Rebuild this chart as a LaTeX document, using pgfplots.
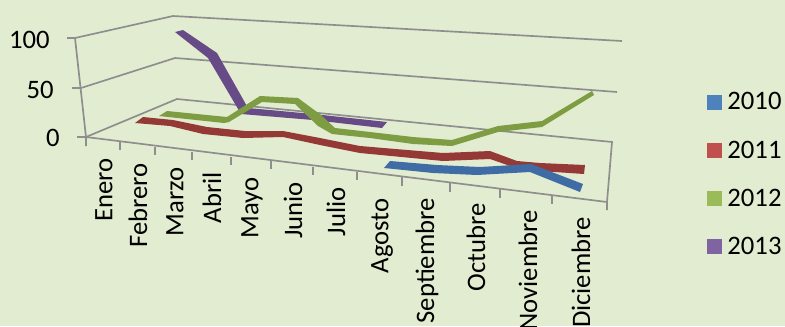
\documentclass[border=0pt]{standalone}
\usepackage{fontspec}
\setmainfont{Carlito}
\usepackage{pgfplots}
\pgfplotsset{compat=1.18}
\definecolor{bgc}{HTML}{E2ECD0}
\definecolor{gridc}{HTML}{8E8E8E}
% ribbon colours (darker, shaded in the 3D view)
\definecolor{r2010}{HTML}{3F6CA4}
\definecolor{r2011}{HTML}{953937}
\definecolor{r2012}{HTML}{7E9C41}
\definecolor{r2013}{HTML}{664B86}
% legend colours
\definecolor{l2010}{HTML}{4F81BD}
\definecolor{l2011}{HTML}{C0504D}
\definecolor{l2012}{HTML}{9BBB59}
\definecolor{l2013}{HTML}{8064A2}
\newcommand{\lab}{\fontsize{20}{23}\selectfont}
\pgfplotsset{
  frameline/.style={gridc, line width=1.25pt, forget plot},
  ribbon/.style={draw=none, forget plot},
  legsq/.style={legend image code/.code={\fill[##1, draw=none] (0pt,-5.6pt) rectangle (11.2pt,5.6pt);}},
}
\begin{document}
\begin{tikzpicture}
\path[use as bounding box, clip] (0,0) rectangle (588.75pt,244.5pt);
\begin{axis}[
  at={(0,0)}, anchor=south west,
  scale only axis, width=588.75pt, height=244.5pt,
  xmin=0, xmax=785, ymin=0, ymax=326, y dir=reverse,
  hide axis, clip=false,
  axis background/.style={fill=bgc},
  legend style={at={(axis cs:707,90)}, anchor=north west, draw=none, fill=none,
    font=\lab, row sep=17.6pt, inner sep=0pt, outer sep=0pt,
    /tikz/every even column/.append style={column sep=0pt},
    /tikz/every odd column/.append style={column sep=-1.2pt}},
  legend cell align=left,
]
% background rectangle so that the page colour is complete
\addplot[fill=bgc, draw=none, forget plot] coordinates {(0,0) (785,0) (785,326) (0,326)};

% walls and floor edges
\addplot[frameline] coordinates {(67,38) (75,38) (173,16) (622,41)};
\addplot[frameline] coordinates {(72,88) (81,88) (175,58) (617,92)};
\addplot[frameline] coordinates {(77,137) (86,137) (177,99) (612,142) (607,202) (607,210)};
\addplot[frameline] coordinates {(75,38) (86,137) (86,146)};
\addplot[frameline] coordinates {(86,137) (607,202)};
% category ticks
\addplot[frameline] coordinates {(120,142) (120,150)};
\addplot[frameline] coordinates {(155,147) (155,155)};
\addplot[frameline] coordinates {(192,152) (192,160)};
\addplot[frameline] coordinates {(231,157) (231,165)};
\addplot[frameline] coordinates {(271,161) (271,169)};
\addplot[frameline] coordinates {(313,167) (313,175)};
\addplot[frameline] coordinates {(357,172) (357,180)};
\addplot[frameline] coordinates {(402,177) (402,186)};
\addplot[frameline] coordinates {(450,183) (450,192)};
\addplot[frameline] coordinates {(500,189) (500,198)};
\addplot[frameline] coordinates {(552,196) (552,204)};

% series as projected ribbons: upper edge, then lower edge backwards
% 2013
\addplot[ribbon, fill=r2013] coordinates {
  (175,32) (183,30) (217,53) (248,108) (313,114) (387,122)
  (382,128) (313,120) (241,114) (208,58)};
% 2012
\addplot[ribbon, fill=r2012] coordinates {
  (167,111) (227,117) (260,96) (298,98) (321,115) (335,128) (370,132) (413,137) (452,140) (498,126) (542,121) (592,91)
  (594,95) (542,127) (498,132) (452,146) (413,144) (370,138) (332,134) (318,126) (295,104) (262,102) (229,122) (224,123) (159,116)};
% 2011
\addplot[ribbon, fill=r2011] coordinates {
  (143,117) (173,120) (207,127) (245,131) (283,131) (320,138) (360,146) (443,153) (490,151) (517,161) (540,163) (585,165)
  (584,174) (540,171) (513,167) (490,159) (443,161) (360,153) (320,145) (283,137) (243,138) (203,134) (170,126) (135,123)};
% 2010
\addplot[ribbon, fill=r2010] coordinates {
  (390,161) (437,165) (480,167) (531,164) (583,184)
  (580,192) (530,172) (477,175) (433,173) (384,168)};

% legend
\addlegendimage{legsq, fill=l2010}
\addlegendimage{legsq, fill=l2011}
\addlegendimage{legsq, fill=l2012}
\addlegendimage{legsq, fill=l2013}
\legend{\,2010,\,2011,\,2012,\,2013}

% value labels
\node[font=\lab, anchor=east, inner sep=0pt] at (axis cs:50,40) {100};
\node[font=\lab, anchor=east, inner sep=0pt] at (axis cs:54,90) {50};
\node[font=\lab, anchor=east, inner sep=0pt] at (axis cs:60,138) {0};

% category labels
\foreach \x/\y/\t in {104/158/Enero, 138/163/Febrero, 175/167/Marzo, 212/172/Abril,
    252/177/Mayo, 293/182/Junio, 336/187/Julio, 382/198/Agosto, 427/198/Septiembre,
    476/203/Octubre, 528/210/Noviembre, 581/217/Diciembre} {
  \edef\temp{\noexpand\node[font=\noexpand\lab, rotate=90, anchor=east, inner sep=0pt] at (axis cs:\x,\y) {\t};}
  \temp
}
\end{axis}
\end{tikzpicture}
\end{document}
